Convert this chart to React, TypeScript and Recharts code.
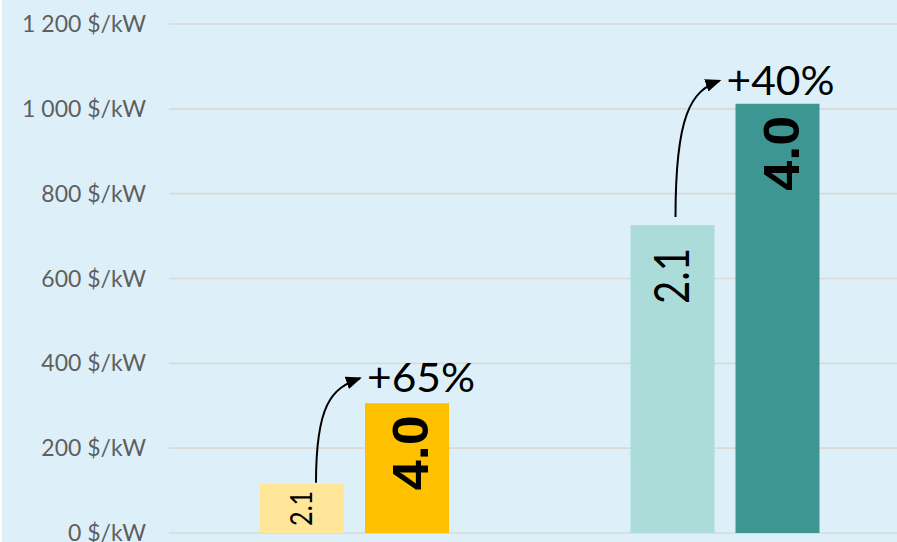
import React from "react";
import { BarChart, Bar, XAxis, YAxis, CartesianGrid, LabelList } from "recharts";

// ---- data ----
const categories = ["Group A", "Group B"];
const series21 = [116, 726];
const series40 = [306, 1012];
const growthLabels = ["+65%", "+40%"];
const yTicks = [0, 200, 400, 600, 800, 1000, 1200];
const seriesNames = ["2.1", "4.0"];

const data = categories.map((c, i) => ({
  name: c,
  v21: series21[i],
  v40: series40[i],
  growth: growthLabels[i],
}));

// ---- styles ----
const BG = "#ddf0f9";
const COLORS21 = ["#ffe699", "#acdcda"];
const COLORS40 = ["#ffc000", "#3e9692"];
const BAR_SIZE = 84;
const BAR_GAP = 21;
// hand-placed annotation nudges (relative to bar geometry)
const ARROW_NUDGE = [
  { sx: 14, sy: -1, tx: -5, ty: -25 },
  { sx: 3, sy: -8, tx: -16, ty: -23 },
];

const fmtTick = (v: number) => {
  const s = String(v).replace(/\B(?=(\d{3})+(?!\d))/g, " ");
  return `${s} $/kW`;
};

const Label21 = (props: any) => {
  const { x, y, width, height } = props;
  const natural = 56;
  const len = Math.min(natural, height - 14);
  const scale = len / natural;
  const fs = 48 * scale;
  const capH = fs * 0.72;
  const top = height > natural + 46 ? 23 : (height - len) / 2;
  const cx = x + width / 2 - 1;
  const cy = y + top + len / 2;
  return (
    <text
      transform={`translate(${cx},${cy}) rotate(-90)`}
      x={0}
      y={capH / 2}
      textAnchor="middle"
      fontFamily="Lato, 'Open Sans', sans-serif"
      fontWeight={400}
      fontSize={fs}
      textLength={len}
      lengthAdjust="spacingAndGlyphs"
      fill="#000"
    >
      {seriesNames[0]}
    </text>
  );
};

const Label40 = (props: any) => {
  const { x, y, width } = props;
  const len = 75;
  const fs = 50;
  const capH = fs * 0.72;
  const cx = x + width / 2 + 3;
  const cy = y + 12 + len / 2;
  return (
    <text
      transform={`translate(${cx},${cy}) rotate(-90)`}
      x={0}
      y={capH / 2}
      textAnchor="middle"
      fontFamily="'Liberation Sans', Arial, sans-serif"
      fontWeight={700}
      fontSize={fs}
      textLength={len}
      lengthAdjust="spacingAndGlyphs"
      fill="#000"
    >
      {seriesNames[1]}
    </text>
  );
};

const ArrowLabel = (props: any) => {
  const { x, y, width, height, value, index } = props;
  const d = data[index];
  const bottom = y + height;
  const prevTop = bottom - (d.v21 * height) / value;
  const prevCenter = x - BAR_GAP - width / 2;
  const n = ARROW_NUDGE[index];
  const sx = prevCenter + n.sx;
  const sy = prevTop + n.sy;
  const tx = x + n.tx;
  const ty = y + n.ty;
  const h = sy - ty;
  const w = tx - sx;
  const path = `M ${sx} ${sy} C ${sx} ${ty + h * 0.25}, ${sx + w * 0.35} ${ty + 10}, ${tx} ${ty}`;
  const id = `arrowhead-${index}`;
  return (
    <g>
      <defs>
        <marker
          id={id}
          markerUnits="userSpaceOnUse"
          markerWidth={16}
          markerHeight={13}
          refX={14}
          refY={6.5}
          orient="auto"
        >
          <path d="M0,0 L16,6.5 L0,13 z" fill="#000" />
        </marker>
      </defs>
      <path d={path} fill="none" stroke="#000" strokeWidth={2} markerEnd={`url(#${id})`} />
      <text
        x={tx + 7}
        y={ty + 14}
        fontFamily="Lato, 'Open Sans', sans-serif"
        fontSize={40}
        textLength={108}
        lengthAdjust="spacingAndGlyphs"
        fill="#000"
      >
        {d.growth}
      </text>
    </g>
  );
};

export default function App() {
  return (
    <div
      style={{
        position: "fixed",
        left: 0,
        top: 0,
        width: 897,
        height: 542,
        overflow: "hidden",
        background: "#ffffff",
      }}
    >
      <div style={{ marginLeft: 2, width: 895, height: 542, background: BG, overflow: "hidden" }}>
        <BarChart
          width={908}
          height={542}
          data={data}
          margin={{ top: 24, right: 0, bottom: 9, left: 0 }}
          barSize={BAR_SIZE}
          barGap={BAR_GAP}
        >
          <CartesianGrid vertical={false} stroke="#d9d9d9" strokeWidth={1.6} />
          <XAxis dataKey="name" hide />
          <YAxis
            width={167}
            domain={[0, 1200]}
            ticks={yTicks}
            interval={0}
            tickFormatter={fmtTick}
            axisLine={false}
            tickLine={false}
            tickSize={0}
            tickMargin={23}
            tick={{ fill: "#5f5f5f", fontSize: 23, fontFamily: "Lato, 'Open Sans', sans-serif" }}
          />
          <Bar dataKey="v21" isAnimationActive={false} shape={(p: any) => (
            <rect x={p.x} y={p.y} width={p.width} height={p.height} fill={COLORS21[p.index]} />
          )}>
            <LabelList dataKey="v21" content={<Label21 />} />
          </Bar>
          <Bar dataKey="v40" isAnimationActive={false} shape={(p: any) => (
            <rect x={p.x} y={p.y} width={p.width} height={p.height} fill={COLORS40[p.index]} />
          )}>
            <LabelList dataKey="v40" content={<Label40 />} />
            <LabelList dataKey="v40" content={<ArrowLabel />} />
          </Bar>
        </BarChart>
      </div>
    </div>
  );
}
